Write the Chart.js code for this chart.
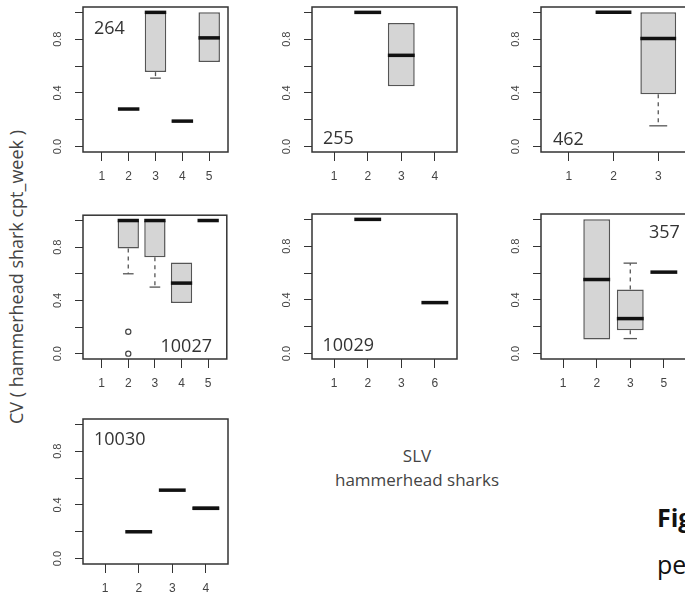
<!DOCTYPE html>
<html>
<head>
<meta charset="utf-8">
<script src="https://cdn.jsdelivr.net/npm/chart.js@4.4.1/dist/chart.umd.min.js"></script>
<style>
  html, body { margin: 0; padding: 0; background: #fff; }
  body { width: 685px; height: 596px; overflow: hidden; position: relative; font-family: "Open Sans", sans-serif; }
  canvas.panel { position: absolute; }
  #ytitle { position: absolute; left: 16px; top: 277px; transform: translate(-50%, -50%) rotate(-90deg);
            white-space: nowrap; font-size: 18px; color: #444; }
  .note { position: absolute; white-space: nowrap; color: #444; font-size: 17px; text-align: center; line-height: 24px; }
  .cap { position: absolute; white-space: nowrap; color: #111; font-size: 25px; }
</style>
</head>
<body>
<div id="ytitle">CV ( hammerhead shark cpt_week )</div>
<div class="note" style="left:317px; top:444px; width:200px;">SLV<br>hammerhead sharks</div>
<div class="cap" style="left:657px; top:500px; font-weight:bold;">Fig</div>
<div class="cap" style="left:657px; top:547px;">pe</div>

<script>
// x categories of each panel
const cats264 = ['1', '2', '3', '4', '5']
const cats255 = ['1', '2', '3', '4']
const cats462 = ['1', '2', '3']
const cats10027 = ['1', '2', '3', '4', '5']
const cats10029 = ['1', '2', '3', '6']
const cats357 = ['1', '2', '3', '5']
const cats10030 = ['1', '2', '3', '4']

// [lower whisker, Q1, median, Q3, upper whisker] per category, null = no data
const box264 = [null, [0.28, 0.28, 0.28, 0.28, 0.28], [0.51, 0.555, 1.0, 1.0, 1.0], [0.185, 0.185, 0.19, 0.195, 0.195], [0.63, 0.63, 0.81, 1.0, 1.0]]
const box255 = [null, [1.0, 1.0, 1.0, 1.0, 1.0], [0.45, 0.45, 0.68, 0.92, 0.92], null]
const box462 = [null, [1.0, 1.0, 1.0, 1.0, 1.0], [0.155, 0.39, 0.805, 1.0, 1.0]]
const box10027 = [null, [0.6, 0.79, 1.0, 1.0, 1.0], [0.5, 0.725, 1.0, 1.0, 1.0], [0.38, 0.38, 0.53, 0.685, 0.685], [1.0, 1.0, 1.0, 1.0, 1.0]]
const box10029 = [null, [1.0, 1.0, 1.0, 1.0, 1.0], null, [0.38, 0.38, 0.38, 0.38, 0.38]]
const box357 = [null, [0.105, 0.105, 0.552, 1.0, 1.0], [0.112, 0.174, 0.261, 0.478, 0.674], [0.607, 0.607, 0.607, 0.607, 0.607]]
const box10030 = [null, [0.2, 0.2, 0.2, 0.2, 0.2], [0.51, 0.51, 0.51, 0.51, 0.51], [0.36, 0.36, 0.375, 0.39, 0.39]]

// outliers (category position, value)
const outCat10027 = [2, 2]
const outVal10027 = [0.165, 0.0]

const yTicks = [0, 0.2, 0.4, 0.6, 0.8, 1.0]
const yLabelled = [0, 0.4, 0.8]

const FRAME = 145
const panels = [
  { id: '264', cats: cats264, box: box264, left: 83, top: 7, tag: [11, 27, 'left'] },
  { id: '255', cats: cats255, box: box255, left: 311.5, top: 7, tag: [11, 137, 'left'] },
  { id: '462', cats: cats462, box: box462, left: 541, top: 7, tag: [12, 138, 'left'] },
  { id: '10027', cats: cats10027, box: box10027, left: 83, top: 214, tag: [129, 137, 'right'], outCat: outCat10027, outVal: outVal10027 },
  { id: '10029', cats: cats10029, box: box10029, left: 311.5, top: 214, tag: [10.5, 137, 'left'] },
  { id: '357', cats: cats357, box: box357, left: 541, top: 214, tag: [108, 24, 'left'] },
  { id: '10030', cats: cats10030, box: box10030, left: 83, top: 419, tag: [11, 26, 'left'] }
]

const boxExtras = {
  id: 'boxExtras',
  afterDatasetsDraw(chart, args, opts) {
    const { ctx, chartArea, scales: { x, y } } = chart
    const unit = x.getPixelForValue(1) - x.getPixelForValue(0)
    const half = unit * 0.4
    ctx.save()
    opts.box.forEach((s, i) => {
      if (!s) return
      const [lo, q1, med, q3, hi] = s
      const cx = x.getPixelForValue(i + 1)
      ctx.strokeStyle = '#555'
      ctx.lineWidth = 1.3
      const whisker = (from, to) => {
        ctx.setLineDash([4, 4])
        ctx.beginPath()
        ctx.moveTo(cx, y.getPixelForValue(from))
        ctx.lineTo(cx, y.getPixelForValue(to))
        ctx.stroke()
        ctx.setLineDash([])
        ctx.beginPath()
        ctx.moveTo(cx - half / 2, y.getPixelForValue(to))
        ctx.lineTo(cx + half / 2, y.getPixelForValue(to))
        ctx.stroke()
      }
      if (lo < q1) whisker(q1, lo)
      if (hi > q3) whisker(q3, hi)
      ctx.strokeStyle = '#111'
      ctx.lineWidth = 3.5
      ctx.beginPath()
      ctx.moveTo(cx - half, y.getPixelForValue(med))
      ctx.lineTo(cx + half, y.getPixelForValue(med))
      ctx.stroke()
    })

    // frame
    ctx.strokeStyle = '#333'
    ctx.lineWidth = 1.5
    ctx.strokeRect(chartArea.left, chartArea.top, chartArea.right - chartArea.left, chartArea.bottom - chartArea.top)

    // rotated y labels, R style
    ctx.fillStyle = '#444'
    ctx.font = '11px "Liberation Sans", Arial, sans-serif'
    ctx.textAlign = 'center'
    ctx.textBaseline = 'middle'
    yLabelled.forEach(v => {
      ctx.save()
      ctx.translate(chartArea.left - 25, y.getPixelForValue(v))
      ctx.rotate(-Math.PI / 2)
      ctx.fillText(v.toFixed(1), 0, 0)
      ctx.restore()
    })

    // panel id
    const [dx, dy, align] = opts.tag
    ctx.font = '18px "Open Sans", sans-serif'
    ctx.fillStyle = '#333'
    ctx.textAlign = align
    ctx.textBaseline = 'alphabetic'
    ctx.fillText(opts.label, chartArea.left + dx, chartArea.top + dy)
    ctx.restore()
  }
}

panels.forEach(p => {
  const n = p.cats.length
  const canvas = document.createElement('canvas')
  canvas.className = 'panel'
  canvas.width = 40 + FRAME + 4
  canvas.height = 4 + FRAME + 40
  canvas.style.left = (p.left - 40) + 'px'
  canvas.style.top = (p.top - 4) + 'px'
  document.body.appendChild(canvas)

  const boxData = p.box.map((s, i) => ({ x: i + 1, y: s && s[3] > s[1] ? [s[1], s[3]] : null }))
  const outData = (p.outCat || []).map((c, i) => ({ x: c, y: p.outVal[i] }))

  new Chart(canvas.getContext('2d'), {
    type: 'bar',
    data: {
      datasets: [
        {
          data: boxData,
          backgroundColor: '#d5d5d5',
          borderColor: '#555',
          borderWidth: 1.5,
          borderSkipped: false,
          barPercentage: 0.8,
          categoryPercentage: 1.0
        },
        {
          type: 'scatter',
          data: outData,
          pointStyle: 'circle',
          pointRadius: 2.6,
          pointBorderWidth: 1.2,
          pointBorderColor: '#444',
          pointBackgroundColor: 'rgba(0,0,0,0)'
        }
      ]
    },
    options: {
      responsive: false,
      animation: false,
      layout: { padding: { top: 4, right: 4, left: 0, bottom: 0 } },
      plugins: {
        legend: { display: false },
        tooltip: { enabled: false },
        boxExtras: { box: p.box, tag: p.tag, label: p.id }
      },
      scales: {
        x: {
          type: 'linear',
          offset: false,
          min: 0.5 - 0.04 * n,
          max: n + 0.5 + 0.04 * n,
          afterBuildTicks: s => { s.ticks = p.cats.map((c, i) => ({ value: i + 1 })) },
          afterFit: s => { s.height = 40 },
          border: { display: false },
          grid: { offset: false, drawOnChartArea: false, drawTicks: true, tickLength: 9, color: '#333', lineWidth: 1 },
          ticks: {
            autoSkip: false, maxRotation: 0, padding: 8, color: '#444',
            font: { family: '"Liberation Sans", Arial, sans-serif', size: 12 },
            callback: v => p.cats[v - 1]
          }
        },
        y: {
          type: 'linear',
          min: -0.04,
          max: 1.04,
          afterBuildTicks: s => { s.ticks = yTicks.map(v => ({ value: v })) },
          afterFit: s => { s.width = 40 },
          border: { display: false },
          grid: { drawOnChartArea: false, drawTicks: true, tickLength: 8, color: '#333', lineWidth: 1 },
          ticks: { display: false }
        }
      }
    },
    plugins: [boxExtras]
  })
})
</script>
</body>
</html>
